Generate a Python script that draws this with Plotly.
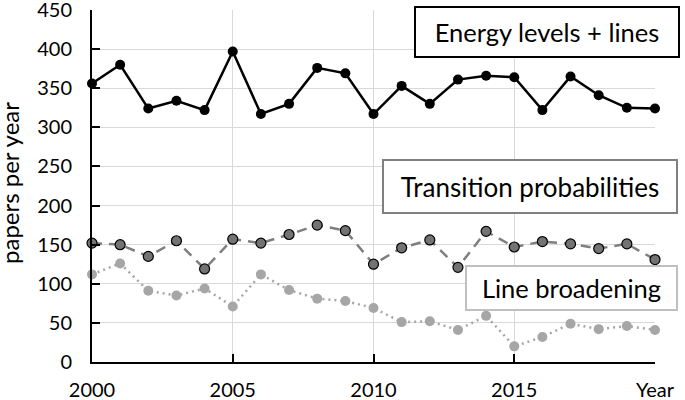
import plotly.graph_objects as go

years = list(range(2000, 2021))
energy_levels = [356, 380, 324, 334, 322, 397, 317, 330, 376, 369, 317, 353, 330, 361, 366, 364, 322, 365, 341, 325, 324]
transition_prob = [152, 150, 135, 155, 119, 157, 152, 163, 175, 168, 125, 146, 156, 121, 167, 147, 154, 151, 145, 151, 131]
line_broadening = [112, 126, 91, 85, 94, 71, 112, 92, 81, 78, 69, 51, 52, 41, 59, 20, 32, 49, 42, 46, 41]

x_tickvals = [2000, 2005, 2010, 2015, 2020]
x_ticktext = ["2000", "2005", "2010", "2015", "Year"]
y_tickvals = [0, 50, 100, 150, 200, 250, 300, 350, 400, 450]

FONT = "Lato"

fig = go.Figure()
fig.add_trace(go.Scatter(
    x=years, y=line_broadening, mode="lines+markers", cliponaxis=False,
    line=dict(color="#a6a6a6", width=2.5, dash="2px,4px"),
    marker=dict(size=10, color="#a6a6a6", line=dict(width=0)),
    name="Line broadening"))
fig.add_trace(go.Scatter(
    x=years, y=transition_prob, mode="lines+markers", cliponaxis=False,
    line=dict(color="#7f7f7f", width=2.5, dash="10px,7px"),
    marker=dict(size=10, color="#737373", line=dict(width=1.2, color="#000000")),
    name="Transition probabilities"))
fig.add_trace(go.Scatter(
    x=years, y=energy_levels, mode="lines+markers", cliponaxis=False,
    line=dict(color="#000000", width=2.5),
    marker=dict(size=10, color="#000000"),
    name="Energy levels + lines"))

pw, ph, ml, mt = 563, 352, 92, 10
def dx(xp): return 2000 + (xp - ml) / pw * 20
def dy(yp): return (mt + ph - yp) / ph * 450

def box(text, x, y, w, h, color, size=25.5):
    fig.add_annotation(
        text=text, xref="x", yref="y", x=dx(x), y=dy(y),
        xanchor="center", yanchor="middle", showarrow=False,
        width=w, height=h, borderpad=0, borderwidth=2, bordercolor=color,
        bgcolor="white", font=dict(family=FONT, size=size, color="black"))

box("Energy levels + lines", 547, 32, 262, 48, "#000000")
box("Transition probabilities", 530, 186.5, 292, 51, "#808080", 26)
box("Line broadening", 571.5, 288, 209, 42, "#bfbfbf")

fig.add_annotation(text="papers per year", xref="x", yref="y",
                   x=2000, y=dy(183), xshift=9 - ml, xanchor="center", yanchor="middle",
                   textangle=-90, showarrow=False,
                   font=dict(family=FONT, size=24, color="black"))

fig.update_layout(
    width=685, height=400, showlegend=False,
    margin=dict(l=ml, r=685 - ml - pw, t=mt, b=400 - mt - ph, pad=0, autoexpand=False),
    plot_bgcolor="white", paper_bgcolor="white",
    font=dict(family=FONT, size=20, color="black"),
    xaxis=dict(range=[2000, 2020], tickvals=x_tickvals, ticktext=x_ticktext,
               showgrid=True, gridcolor="#d9d9d9", gridwidth=1,
               showline=True, linecolor="black", linewidth=2,
               ticks="inside", ticklen=8, tickwidth=2, tickcolor="black",
               ticklabelstandoff=9, ticklabeloverflow="allow",
               zeroline=False, automargin=False),
    yaxis=dict(range=[0, 450], tickvals=y_tickvals,
               showgrid=True, gridcolor="#d9d9d9", gridwidth=1,
               showline=True, linecolor="black", linewidth=2,
               ticks="inside", ticklen=8, tickwidth=2, tickcolor="black",
               ticklabelstandoff=14, ticklabeloverflow="allow",
               zeroline=False, automargin=False),
)

fig.write_html("out.html", config={"displayModeBar": False},
               post_script="document.body.style.margin='0';")
